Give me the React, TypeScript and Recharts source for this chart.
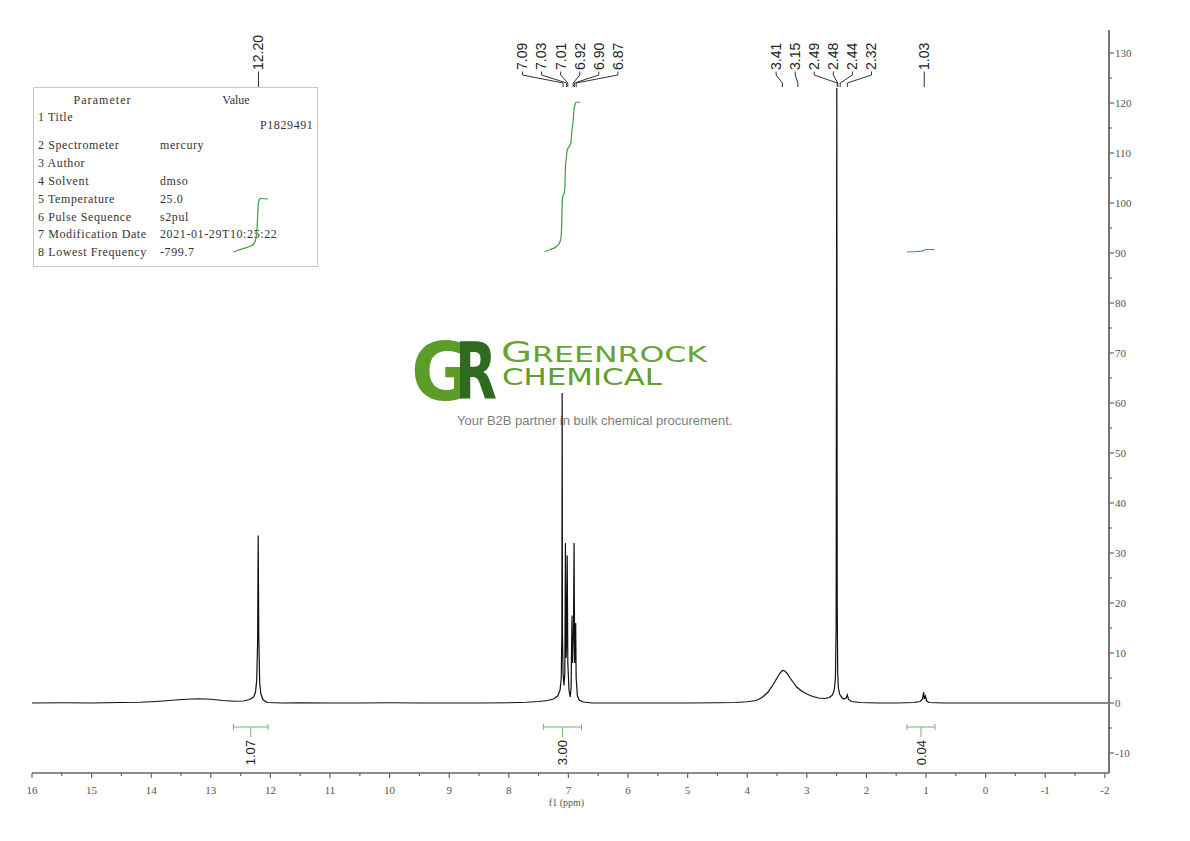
import React from 'react';
import { ComposedChart, Line, XAxis, YAxis, Scatter, ReferenceLine } from 'recharts';

// ---- spectrum (ppm, intensity) ----
const spectrum: [number, number][] = [
  [16, 0], [15.5, 0.05], [15, 0], [14.5, 0.1], [14.2, 0.15], [14, 0.25], [13.8, 0.4], [13.6, 0.6],
  [13.4, 0.75], [13.2, 0.85], [13.0, 0.75], [12.8, 0.5], [12.6, 0.35], [12.45, 0.4], [12.35, 0.7],
  [12.28, 1.2], [12.25, 2.2], [12.23, 4.5], [12.215, 12], [12.205, 33.5], [12.195, 13], [12.18, 4],
  [12.16, 1.8], [12.12, 0.6], [12.05, 0.1], [11.8, 0], [11.5, 0.05], [11, 0], [10.5, 0], [10, 0.05],
  [9.5, 0], [9, 0], [8.5, 0], [8, 0.05], [7.7, 0.15], [7.5, 0.3], [7.35, 0.5], [7.25, 0.8],
  [7.18, 1.4], [7.14, 2.6], [7.12, 5], [7.11, 14], [7.105, 62], [7.1, 14], [7.09, 6], [7.075, 3.5],
  [7.06, 6], [7.05, 32], [7.04, 9], [7.03, 12], [7.02, 29.5], [7.01, 8], [6.99, 2.5], [6.97, 1.2],
  [6.955, 3], [6.94, 17.5], [6.93, 8], [6.915, 14], [6.905, 32], [6.895, 8], [6.885, 10],
  [6.878, 16], [6.87, 5], [6.85, 1.5], [6.82, 0.6], [6.75, 0.2], [6.6, 0], [6.3, 0], [6, 0],
  [5.5, 0], [5, 0], [4.5, 0.05], [4.2, 0.1], [4.0, 0.25], [3.85, 0.5], [3.75, 1.1], [3.65, 2.2],
  [3.57, 3.6], [3.5, 5], [3.45, 6], [3.41, 6.5], [3.37, 6.4], [3.33, 5.9], [3.28, 5], [3.22, 4],
  [3.17, 3.2], [3.1, 2.5], [3.0, 1.8], [2.9, 1.3], [2.8, 1.0], [2.7, 0.9], [2.62, 1.1], [2.57, 1.6],
  [2.54, 2.6], [2.52, 5], [2.508, 16], [2.497, 123], [2.49, 20], [2.482, 6], [2.47, 3], [2.45, 1.8],
  [2.42, 1.2], [2.38, 0.8], [2.34, 1.0], [2.32, 1.6], [2.3, 0.7], [2.25, 0.3], [2.1, 0.1], [1.8, 0],
  [1.5, 0], [1.2, 0.1], [1.1, 0.3], [1.06, 0.8], [1.04, 2.2], [1.03, 0.8], [1.01, 1.4], [0.99, 0.4],
  [0.95, 0.1], [0.7, 0], [0.3, 0], [0, 0], [-0.5, 0], [-1, 0], [-1.5, 0], [-2.07, 0],
];

// ---- integral curves ----
const integral1: [number, number][] = [
  [12.62, 90.2], [12.55, 90.5], [12.45, 90.9], [12.35, 91.3], [12.28, 91.8], [12.25, 92.6],
  [12.23, 94], [12.215, 97], [12.205, 99.5], [12.19, 100.6], [12.17, 100.9], [12.04, 100.8],
];
const integral2: [number, number][] = [
  [7.4, 90.3], [7.3, 90.7], [7.2, 91.3], [7.15, 92], [7.125, 93], [7.115, 95], [7.105, 99.5],
  [7.095, 101.4], [7.075, 101.8], [7.06, 103], [7.05, 107], [7.04, 108.5], [7.025, 110.2],
  [7.01, 110.9], [6.99, 111.2], [6.96, 112], [6.94, 114.5], [6.92, 116.5], [6.905, 118.8],
  [6.89, 119.6], [6.875, 120.1], [6.86, 120.2], [6.8, 120.1],
];
const integral3: [number, number][] = [
  [1.32, 90.2], [1.15, 90.3], [1.06, 90.4], [1.03, 90.6], [1.0, 90.7], [0.86, 90.7],
];

// ---- integration regions ----
const integralFrom = [12.62, 7.42, 1.32];
const integralTo = [12.04, 6.78, 0.85];
const integralLabels = ['1.07', '3.00', '0.04'];

// ---- peak picking ----
const peakGroups: number[][] = [
  [12.2],
  [7.09, 7.03, 7.01, 6.92, 6.9, 6.87],
  [3.41, 3.15, 2.49, 2.48, 2.44, 2.32],
  [1.03],
];

// ---- axis ticks ----
const xMajorTicks = [16, 15, 14, 13, 12, 11, 10, 9, 8, 7, 6, 5, 4, 3, 2, 1, 0, -1, -2];
const yMajorTicks = [-10, 0, 10, 20, 30, 40, 50, 60, 70, 80, 90, 100, 110, 120, 130];

// ---- parameter table ----
const paramNames = ['1 Title', '2 Spectrometer', '3 Author', '4 Solvent', '5 Temperature', '6 Pulse Sequence', '7 Modification Date', '8 Lowest Frequency'];
const paramValues = ['P1829491', 'mercury', '', 'dmso', '25.0', 's2pul', '2021-01-29T10:25:22', '-799.7'];

const xTicks: number[] = [];
xMajorTicks.forEach((t, i) => { xTicks.push(t); if (i < xMajorTicks.length - 1) xTicks.push(t - 0.5); });
const yTicks: number[] = [];
yMajorTicks.forEach((t, i) => { yTicks.push(t); if (i < yMajorTicks.length - 1) yTicks.push(t + 5); });

const toXY = (a: [number, number][]) => a.map(([x, y]) => ({ x, y }));
const spectrumData = toXY(spectrum);

// label layout (in data units)
const LABEL_SPACING = 0.32;
const Y_TEXT = 126.6, Y_BEND1 = 125.6, Y_BEND2 = 124.0, Y_END = 123.2;
const peakLabels: { x: number; y: number; label: string; peak: number }[] = [];
peakGroups.forEach((g) => {
  const mean = g.reduce((s, v) => s + v, 0) / g.length;
  g.forEach((p, i) => {
    const lx = mean + ((g.length - 1) / 2 - i) * LABEL_SPACING;
    peakLabels.push({ x: lx, y: Y_TEXT, label: p.toFixed(2), peak: p });
  });
});

const BAR_Y = -4.8;
const integralLabelData = integralFrom.map((f, i) => ({ x: (f + integralTo[i]) / 2, y: -7.4, label: integralLabels[i] }));

const AXIS_COLOR = '#666';
const TICK_FONT = '"Liberation Serif", "DejaVu Serif", serif';

const XTick = (props: any) => {
  const { x, y, payload } = props;
  const v = payload.value;
  const major = Number.isInteger(v);
  return (
    <g>
      <line x1={x} x2={x} y1={y} y2={y + (major ? 5 : 3)} stroke={AXIS_COLOR} strokeWidth={1.2} />
      {major && (
        <text x={x} y={y + 21} textAnchor="middle" fontFamily={TICK_FONT} fontSize={11} fill="#555">{String(v)}</text>
      )}
    </g>
  );
};

const YTick = (props: any) => {
  const { x, y, payload } = props;
  const v = payload.value;
  const major = v % 10 === 0;
  return (
    <g>
      <line x1={x} x2={x + (major ? 5 : 3)} y1={y} y2={y} stroke={AXIS_COLOR} strokeWidth={1.2} />
      {major && (
        <text x={x + 6} y={y} dy="0.35em" textAnchor="start" fontFamily={TICK_FONT} fontSize={11} fill="#555">{String(v)}</text>
      )}
    </g>
  );
};

const PeakLabelShape = (p: any) => {
  const { cx, cy, payload } = p;
  return (
    <text x={cx} y={cy} dy="0.35em" transform={`rotate(-90 ${cx} ${cy})`} textAnchor="start"
      fontFamily='"Liberation Sans", Arial, sans-serif' fontSize={14} fill="#222">{payload.label}</text>
  );
};

const IntLabelShape = (p: any) => {
  const { cx, cy, payload } = p;
  return (
    <text x={cx} y={cy} dy="0.35em" transform={`rotate(-90 ${cx} ${cy})`} textAnchor="end"
      fontFamily='"Liberation Sans", Arial, sans-serif' fontSize={13} fill="#222">{payload.label}</text>
  );
};

const TABLE_FONT = '"Liberation Serif", "DejaVu Serif", serif';

function Backdrop() {
  const rowY = [121, 149, 167, 185, 203, 221, 238, 256];
  return (
    <svg width={1190} height={841} style={{ position: 'absolute', left: 0, top: 0 }}>
      <rect x={33.5} y={87.5} width={284} height={179} fill="#fff" stroke="#c8c8c8" strokeWidth={1} />
      <text x={102} y={104} textAnchor="middle" fontFamily={TABLE_FONT} fontSize={12} fill="#333" textLength={57}>Parameter</text>
      <text x={236} y={104} textAnchor="middle" fontFamily={TABLE_FONT} fontSize={12} fill="#333">Value</text>
      {paramNames.map((n, i) => (
        <text key={n} x={38} y={rowY[i]} fontFamily={TABLE_FONT} fontSize={12} fill="#333" letterSpacing={0.6}>{n}</text>
      ))}
      {paramValues.map((v, i) => (
        <text key={'v' + i} x={i === 0 ? 260 : 160} y={i === 0 ? 129 : rowY[i]} fontFamily={TABLE_FONT} fontSize={12} fill="#333" letterSpacing={0.6}>{v}</text>
      ))}
      {/* logo */}
      <text x={411} y={400} fontFamily='"DejaVu Sans", sans-serif' fontWeight="bold" fontSize={80} fill="#5c9c28" textLength={62} lengthAdjust="spacingAndGlyphs">G</text>
      <text x={455} y={399} fontFamily='"DejaVu Sans", sans-serif' fontWeight="bold" fontSize={78} fill="#2f6a21" textLength={42} lengthAdjust="spacingAndGlyphs">R</text>
      <text x={501} y={362} fontFamily='"DejaVu Sans", sans-serif' fill="#67a532" textLength={206} lengthAdjust="spacingAndGlyphs">
        <tspan fontSize={28}>G</tspan><tspan fontSize={22}>REENROCK</tspan>
      </text>
      <text x={502} y={385} fontFamily='"DejaVu Sans", sans-serif' fontSize={23} fill="#5f9f2c" textLength={160} lengthAdjust="spacingAndGlyphs">CHEMICAL</text>
      <text x={457} y={425} fontFamily='"Liberation Sans", Arial, sans-serif' fontSize={13} fill="#7d7d7d">Your B2B partner in bulk chemical procurement.</text>
    </svg>
  );
}

export default function App() {
  const green = '#3f9b43';
  const barGreen = '#6dbb6d';
  return (
    <div style={{ position: 'absolute', left: 0, top: 0, width: 1190, height: 841, background: '#fff' }}>
      <Backdrop />
      <div style={{ position: 'absolute', left: 0, top: 0 }}>
        <ComposedChart width={1190} height={841} margin={{ top: 30, right: 21, bottom: 38, left: 32 }}>
          <XAxis dataKey="x" type="number" domain={[-2.07, 16]} reversed allowDataOverflow ticks={xTicks}
            interval={0} tick={<XTick />} tickLine={false} tickSize={0} tickMargin={0} height={30}
            axisLine={{ stroke: AXIS_COLOR, strokeWidth: 1.5 }}
            label={{ value: 'f1 (ppm)', position: 'insideBottom', offset: -3, fontFamily: TICK_FONT, fontSize: 10, fill: '#555', dx: -4 }} />
          <YAxis dataKey="y" type="number" orientation="right" domain={[-14, 134.6]} allowDataOverflow
            ticks={yTicks} interval={0} tick={<YTick />} tickLine={false} tickSize={0} tickMargin={0} width={60}
            axisLine={{ stroke: '#777', strokeWidth: 2 }} />
          <Line data={spectrumData} dataKey="y" type="linear" stroke="#111" strokeWidth={1.2} dot={false} isAnimationActive={false} />
          <Line data={toXY(integral1)} dataKey="y" type="monotone" stroke={green} strokeWidth={1.2} dot={false} isAnimationActive={false} />
          <Line data={toXY(integral2)} dataKey="y" type="monotone" stroke={green} strokeWidth={1.2} dot={false} isAnimationActive={false} />
          <Line data={toXY(integral3)} dataKey="y" type="monotone" stroke={green} strokeWidth={1.2} dot={false} isAnimationActive={false} />
          {peakLabels.map((p, i) => (
            <ReferenceLine key={'a' + i} segment={[{ x: p.x, y: Y_TEXT - 0.3 }, { x: p.x, y: Y_BEND1 }]} stroke="#333" strokeWidth={1} ifOverflow="visible" />
          ))}
          {peakLabels.map((p, i) => (
            <ReferenceLine key={'b' + i} segment={[{ x: p.x, y: Y_BEND1 }, { x: p.peak, y: Y_BEND2 }]} stroke="#333" strokeWidth={1} ifOverflow="visible" />
          ))}
          {peakLabels.map((p, i) => (
            <ReferenceLine key={'c' + i} segment={[{ x: p.peak, y: Y_BEND2 }, { x: p.peak, y: Y_END }]} stroke="#333" strokeWidth={1} ifOverflow="visible" />
          ))}
          {integralFrom.map((f, i) => {
            const t = integralTo[i];
            const m = (f + t) / 2;
            return (
              <React.Fragment key={'int' + i}>
                <ReferenceLine segment={[{ x: f, y: BAR_Y }, { x: t, y: BAR_Y }]} stroke={barGreen} strokeWidth={1} ifOverflow="visible" />
                <ReferenceLine segment={[{ x: f, y: BAR_Y + 0.6 }, { x: f, y: BAR_Y - 0.6 }]} stroke={barGreen} strokeWidth={1} ifOverflow="visible" />
                <ReferenceLine segment={[{ x: t, y: BAR_Y + 0.6 }, { x: t, y: BAR_Y - 0.6 }]} stroke={barGreen} strokeWidth={1} ifOverflow="visible" />
                <ReferenceLine segment={[{ x: m, y: BAR_Y }, { x: m, y: BAR_Y - 2 }]} stroke={barGreen} strokeWidth={1} ifOverflow="visible" />
              </React.Fragment>
            );
          })}
          <Scatter data={peakLabels} dataKey="y" shape={<PeakLabelShape />} isAnimationActive={false} />
          <Scatter data={integralLabelData} dataKey="y" shape={<IntLabelShape />} isAnimationActive={false} />
        </ComposedChart>
      </div>
    </div>
  );
}
